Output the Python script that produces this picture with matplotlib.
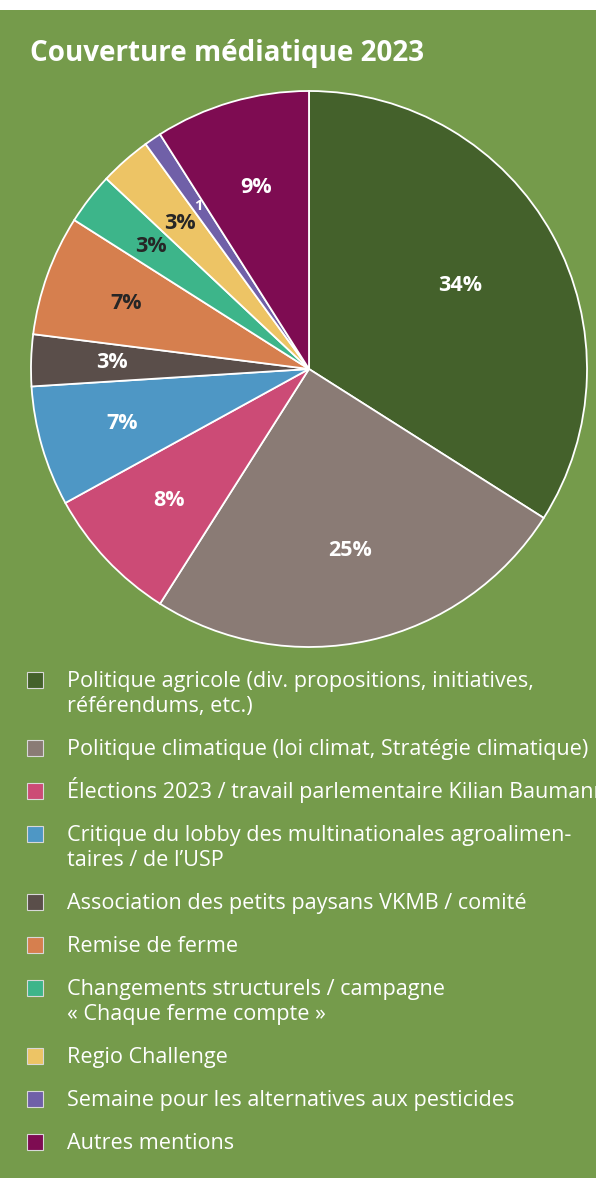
import matplotlib
matplotlib.use("Agg")
import matplotlib.pyplot as plt
from matplotlib.patches import Rectangle
import numpy as np

W, H = 596, 1178
BG = "#759b4b"

categories = [
    "Politique agricole (div. propositions, initiatives,\nréférendums, etc.)",
    "Politique climatique (loi climat, Stratégie climatique)",
    "Élections 2023 / travail parlementaire Kilian Baumann",
    "Critique du lobby des multinationales agroalimen-\ntaires / de l’USP",
    "Association des petits paysans VKMB / comité",
    "Remise de ferme",
    "Changements structurels / campagne\n« Chaque ferme compte »",
    "Regio Challenge",
    "Semaine pour les alternatives aux pesticides",
    "Autres mentions",
]
shares = [34, 25, 8, 7, 3, 7, 3, 3, 1, 9]
slice_labels = ["34%", "25%", "8%", "7%", "3%", "7%", "3%", "3%", "1", "9%"]
colors = ["#44612b", "#8a7b75", "#cc4b76", "#4e97c5", "#5a4e4a",
          "#d67f4e", "#3db58a", "#edc465", "#7060a8", "#7e0c52"]
label_colors = ["white", "white", "white", "white", "white",
                "#262626", "#262626", "#262626", "white", "white"]
label_dist = [0.62, 0.67, 0.69, 0.70, 0.71, 0.70, 0.72, 0.70, 0.71, 0.68]

plt.rcParams["font.family"] = ["Open Sans", "DejaVu Sans"]

fig = plt.figure(figsize=(W / 100, H / 100), dpi=100, facecolor="white")
fig.add_artist(Rectangle((0, 0), 1, 1 - 10 / H, transform=fig.transFigure,
                         facecolor=BG, edgecolor="none", zorder=-10))

fig.text(30 / W, 1 - 54 / H, "Couverture médiatique 2023", color="white",
         fontsize=20, fontweight="bold", ha="left", va="center")

# pie axes: centre (309, 369), radius 278 px
cx, cy, R = 309, 369, 278
ax = fig.add_axes([(cx - R) / W, 1 - (cy + R) / H, 2 * R / W, 2 * R / H])
wedges, _ = ax.pie(shares, colors=colors, startangle=90, counterclock=False,
                   radius=1, wedgeprops=dict(edgecolor="white", linewidth=1.3))
ax.set_xlim(-1, 1)
ax.set_ylim(-1, 1)
ax.set_aspect("equal")
ax.axis("off")

for w, lab, c, d in zip(wedges, slice_labels, label_colors, label_dist):
    ang = np.deg2rad((w.theta1 + w.theta2) / 2)
    size = 10.5 if lab == "1" else 15.5
    ax.text(d * np.cos(ang), d * np.sin(ang), lab, color=c, fontsize=size,
            fontweight="bold", ha="center", va="center")

# legend, one square per entry, aligned with the first line of its label
y = 680
for w, txt in zip(wedges, categories):
    extra = 25 * txt.count("\n")
    fig.add_artist(Rectangle((27 / W, 1 - (y + 8) / H), 16 / W, 16 / H,
                             transform=fig.transFigure,
                             facecolor=w.get_facecolor(),
                             edgecolor="#d8d8d8", linewidth=0.8))
    # baseline of a multi-line text is that of its last line
    fig.text(67 / W, 1 - (y + 7 + extra) / H, txt, color="white",
             fontsize=15.6, ha="left", va="baseline", linespacing=1.28)
    y += extra + 43

fig.savefig("out.png", dpi=100, facecolor=fig.get_facecolor())
